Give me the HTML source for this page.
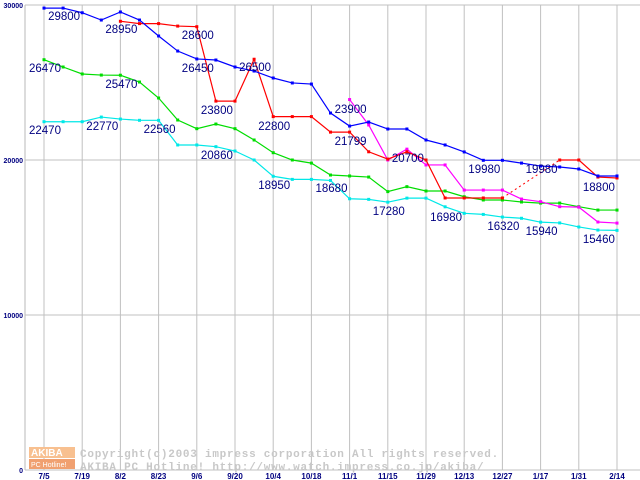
<!DOCTYPE html>
<html><head><meta charset="utf-8"><style>
html,body{margin:0;padding:0;background:#fff}
svg{display:block}
</style></head><body>
<svg id="c" width="640" height="480" xmlns="http://www.w3.org/2000/svg" font-family="Liberation Sans, sans-serif"></svg>
<script>
const xLabels=["7/5","7/19","8/2","8/23","9/6","9/20","10/4","10/18","11/1","11/15","11/29","12/13","12/27","1/17","1/31","2/14"];
const yTicks=[0,10000,20000,30000];
const blue=[29800,29800,29500,29030,29550,29030,28000,27030,26520,26450,26000,25740,25290,24970,24900,23030,22190,22450,22000,22000,21290,20970,20520,19980,19980,19800,19610,19550,19420,18970,18970];
const red=[null,null,null,null,28950,28800,28800,28640,28600,23800,23800,26500,22800,22800,22800,21799,21799,20530,20060,20530,20000,17550,17550,17550,17550,null,null,20000,20000,18900,18840];
const redDotted=[[24,17550],[27,20000]];
const magenta=[null,null,null,null,null,null,null,null,null,null,null,null,null,null,null,null,23900,22260,20000,20700,19680,19680,18060,18060,18060,17480,17310,16990,16960,16000,15930];
const green=[26470,26000,25550,25480,25470,25030,24000,22580,22020,22320,22020,21290,20470,20000,19800,19030,18970,18900,17960,18280,18000,18000,17630,17420,17420,17290,17220,17220,16990,16770,16770];
const cyan=[22470,22470,22470,22770,22640,22560,22560,20970,20970,20860,20580,20000,18950,18750,18750,18680,17500,17460,17280,17540,17540,16980,16560,16490,16320,16240,15990,15940,15680,15480,15460];
const labelIdx=[1,4,8,0,8,11,4,9,12,0,3,6,9,12,15,16,16,19,18,21,23,24,26,26,29,29];
const labelVal=[29800,28950,28600,26470,26450,26500,25470,23800,22800,22470,22770,22560,20860,18950,18680,23900,21799,20700,17280,16980,19980,16320,19980,15940,18800,15460];
const labelTop=[12,25,31,64,64,63,80,106,122,126,122,125,151,181,184,105,137,154,207,213,165,222,165,227,183,235];

const svg=document.getElementById('c');const NS="http://www.w3.org/2000/svg";
const X=i=>44+i*19.1;const Y=v=>470-v*0.0155;
function mk(t,a,p){const e=document.createElementNS(NS,t);for(const k in a)e.setAttribute(k,a[k]);(p||svg).appendChild(e);return e;}
const grid=mk('g',{});


mk('line',{x1:25,y1:5,x2:25,y2:470,stroke:'#b8b8b8'},grid);
yTicks.forEach(v=>{mk('line',{x1:25,y1:Y(v),x2:640,y2:Y(v),stroke:'#c0c0c0'},grid);});
xLabels.forEach((l,k)=>{mk('line',{x1:X(k*2),y1:5,x2:X(k*2),y2:470,stroke:'#c0c0c0'},grid);});
const ax=mk('g',{fill:'#000080','font-size':'8','font-weight':'bold'});


yTicks.forEach(v=>{const t=mk('text',{x:23,y:Y(v)+3,'text-anchor':'end','font-size':'7'},ax);t.textContent=v;});
xLabels.forEach((l,k)=>{const t=mk('text',{x:X(k*2),y:479,'text-anchor':'middle'},ax);t.textContent=l;});
const wm=mk('g',{});


mk('rect',{x:29,y:447,width:46,height:11,fill:'#f8c090'},wm);
mk('rect',{x:29,y:459,width:46,height:10,fill:'#f0a070'},wm);
let t=mk('text',{x:31,y:456,fill:'#fff','font-size':'10','font-weight':'bold'},wm);t.textContent='AKIBA';
t=mk('text',{x:31,y:467,fill:'#fff','font-size':'7'},wm);t.textContent='PC Hotline!';
t=mk('text',{x:80,y:457,fill:'#c8c8c8','font-size':'11','font-family':'Liberation Mono, monospace','font-weight':'bold','letter-spacing':'0.75'},wm);t.textContent='Copyright(c)2003 impress corporation All rights reserved.';
t=mk('text',{x:80,y:470,fill:'#c8c8c8','font-size':'11','font-family':'Liberation Mono, monospace','font-weight':'bold','letter-spacing':'0.75'},wm);t.textContent='AKIBA PC Hotline!  http://www.watch.impress.co.jp/akiba/';
function series(arr,col,name){const g=mk('g',{});


let seg=[];const segs=[];arr.forEach((v,i)=>{if(v==null){if(seg.length)segs.push(seg);seg=[];}else seg.push([X(i),Y(v)]);});if(seg.length)segs.push(seg);
segs.forEach(s=>mk('polyline',{points:s.map(p=>p.join(',')).join(' '),fill:'none',stroke:col,'stroke-width':1.2},g));
arr.forEach((v,i)=>{if(v!=null)mk('rect',{x:X(i)-1.5,y:Y(v)-1.5,width:3,height:3,fill:col},g);});}
mk('line',{x1:X(redDotted[0][0]),y1:Y(redDotted[0][1]),x2:X(redDotted[1][0]),y2:Y(redDotted[1][1]),stroke:'#f00','stroke-dasharray':'2,3'});
series(cyan,'#00e8e8','series-cyan');series(green,'#00dd00','series-green');series(magenta,'#ff00ff','series-magenta');series(red,'#ff0000','series-red');series(blue,'#0000ff','series-blue');
const lg=mk('g',{fill:'#000080','font-size':'11.5'});


labelVal.forEach((v,k)=>{const tt=mk('text',{x:X(labelIdx[k])-15,y:labelTop[k]+8},lg);tt.textContent=v;});
</script>
</body></html>
